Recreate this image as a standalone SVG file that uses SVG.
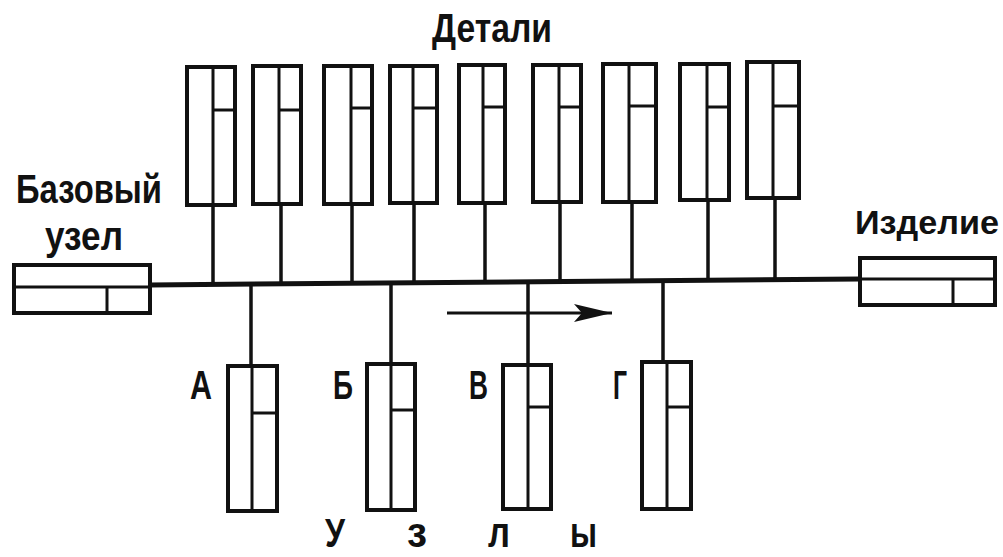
<svg xmlns="http://www.w3.org/2000/svg" width="1003" height="557" viewBox="0 0 1003 557">
<defs>
<style>
.box{fill:#fff;stroke:#111;stroke-width:4}
.div{fill:none;stroke:#111;stroke-width:3}
.ln{fill:none;stroke:#111;stroke-width:3.5}
.main{fill:none;stroke:#111;stroke-width:5}
.t{font-family:"Liberation Sans",Arial,sans-serif;font-weight:bold;fill:#111}
</style>
<marker id="ah" viewBox="0 0 40 20" refX="38" refY="10" markerWidth="40" markerHeight="20" markerUnits="userSpaceOnUse" orient="auto">
<path d="M0,1 L38,10 L0,19 L8,10 Z" fill="#111"/>
</marker>
</defs>
<rect width="1003" height="557" fill="#fff"/>

<g id="connectors">
<line class="main" x1="150" y1="285" x2="860" y2="279"/>
<line class="ln" x1="213" y1="205" x2="213" y2="285"/>
<line class="ln" x1="281" y1="204" x2="281" y2="285"/>
<line class="ln" x1="352" y1="204" x2="352" y2="284"/>
<line class="ln" x1="414" y1="203" x2="414" y2="284"/>
<line class="ln" x1="485" y1="203" x2="485" y2="283"/>
<line class="ln" x1="560" y1="202" x2="560" y2="282"/>
<line class="ln" x1="632" y1="202" x2="632" y2="282"/>
<line class="ln" x1="708" y1="200" x2="708" y2="281"/>
<line class="ln" x1="775" y1="198" x2="775" y2="281"/>
<line class="ln" x1="251" y1="285" x2="251" y2="366"/>
<line class="ln" x1="391" y1="284" x2="391" y2="364"/>
<line class="ln" x1="528" y1="283" x2="528" y2="365"/>
<line class="ln" x1="663" y1="282" x2="663" y2="362"/>
<line x1="447" y1="313" x2="612" y2="313" stroke="#111" stroke-width="3" marker-end="url(#ah)"/>
</g>

<g id="base">
<rect class="box" x="14" y="265" width="136" height="48"/>
<line class="div" x1="14" y1="287" x2="150" y2="287"/>
<line class="div" x1="107" y1="287" x2="107" y2="313"/>
</g>
<g id="product">
<rect class="box" x="860" y="258" width="135" height="47"/>
<line class="div" x1="860" y1="279" x2="995" y2="279"/>
<line class="div" x1="953" y1="279" x2="953" y2="305"/>
</g>

<g id="d1"><rect class="box" x="187" y="67" width="48" height="138"/><line class="div" x1="213" y1="67" x2="213" y2="205"/><line class="div" x1="213" y1="110" x2="235" y2="110"/></g>
<g id="d2"><rect class="box" x="253" y="66" width="48" height="138"/><line class="div" x1="279" y1="66" x2="279" y2="204"/><line class="div" x1="279" y1="110" x2="301" y2="110"/></g>
<g id="d3"><rect class="box" x="324" y="66" width="48" height="138"/><line class="div" x1="351" y1="66" x2="351" y2="204"/><line class="div" x1="351" y1="108" x2="372" y2="108"/></g>
<g id="d4"><rect class="box" x="390" y="66" width="47" height="137"/><line class="div" x1="413" y1="66" x2="413" y2="203"/><line class="div" x1="413" y1="108" x2="437" y2="108"/></g>
<g id="d5"><rect class="box" x="459" y="65" width="46" height="138"/><line class="div" x1="483" y1="65" x2="483" y2="203"/><line class="div" x1="483" y1="107" x2="505" y2="107"/></g>
<g id="d6"><rect class="box" x="533" y="65" width="48" height="137"/><line class="div" x1="559" y1="65" x2="559" y2="202"/><line class="div" x1="559" y1="107" x2="581" y2="107"/></g>
<g id="d7"><rect class="box" x="603" y="64" width="53" height="138"/><line class="div" x1="629" y1="64" x2="629" y2="202"/><line class="div" x1="629" y1="106" x2="656" y2="106"/></g>
<g id="d8"><rect class="box" x="680" y="64" width="49" height="136"/><line class="div" x1="707" y1="64" x2="707" y2="200"/><line class="div" x1="707" y1="107" x2="729" y2="107"/></g>
<g id="d9"><rect class="box" x="747" y="62" width="52" height="136"/><line class="div" x1="773" y1="62" x2="773" y2="198"/><line class="div" x1="773" y1="106" x2="799" y2="106"/></g>

<g id="uA"><rect class="box" x="228" y="366" width="49" height="145"/><line class="div" x1="252" y1="366" x2="252" y2="511"/><line class="div" x1="252" y1="413" x2="277" y2="413"/></g>
<g id="uB"><rect class="box" x="367" y="364" width="48" height="146"/><line class="div" x1="391" y1="364" x2="391" y2="510"/><line class="div" x1="391" y1="410" x2="415" y2="410"/></g>
<g id="uV"><rect class="box" x="503" y="365" width="48" height="144"/><line class="div" x1="528" y1="365" x2="528" y2="509"/><line class="div" x1="528" y1="407" x2="551" y2="407"/></g>
<g id="uG"><rect class="box" x="642" y="362" width="49" height="147"/><line class="div" x1="667" y1="362" x2="667" y2="509"/><line class="div" x1="667" y1="407" x2="691" y2="407"/></g>

<g id="labels">
<text class="t" x="432" y="42" font-size="40" textLength="120" lengthAdjust="spacingAndGlyphs">Детали</text>
<text class="t" x="16" y="203" font-size="40" textLength="146" lengthAdjust="spacingAndGlyphs">Базовый</text>
<text class="t" x="45" y="250" font-size="40" textLength="78" lengthAdjust="spacingAndGlyphs">узел</text>
<text class="t" x="855" y="234" font-size="33" textLength="144" lengthAdjust="spacingAndGlyphs">Изделие</text>
<text class="t" x="190" y="399" font-size="40" textLength="22" lengthAdjust="spacingAndGlyphs">А</text>
<text class="t" x="333" y="399" font-size="40" textLength="20" lengthAdjust="spacingAndGlyphs">Б</text>
<text class="t" x="469" y="399" font-size="40" textLength="19" lengthAdjust="spacingAndGlyphs">В</text>
<text class="t" x="613" y="399" font-size="40" textLength="14" lengthAdjust="spacingAndGlyphs">Г</text>
<text class="t" x="325" y="547" font-size="40" textLength="20" lengthAdjust="spacingAndGlyphs">У</text>
<text class="t" x="407" y="547" font-size="42" textLength="20" lengthAdjust="spacingAndGlyphs">з</text>
<text class="t" x="488" y="547" font-size="42" textLength="22" lengthAdjust="spacingAndGlyphs">л</text>
<text class="t" x="570" y="547" font-size="42" textLength="27" lengthAdjust="spacingAndGlyphs">ы</text>
</g>
</svg>
